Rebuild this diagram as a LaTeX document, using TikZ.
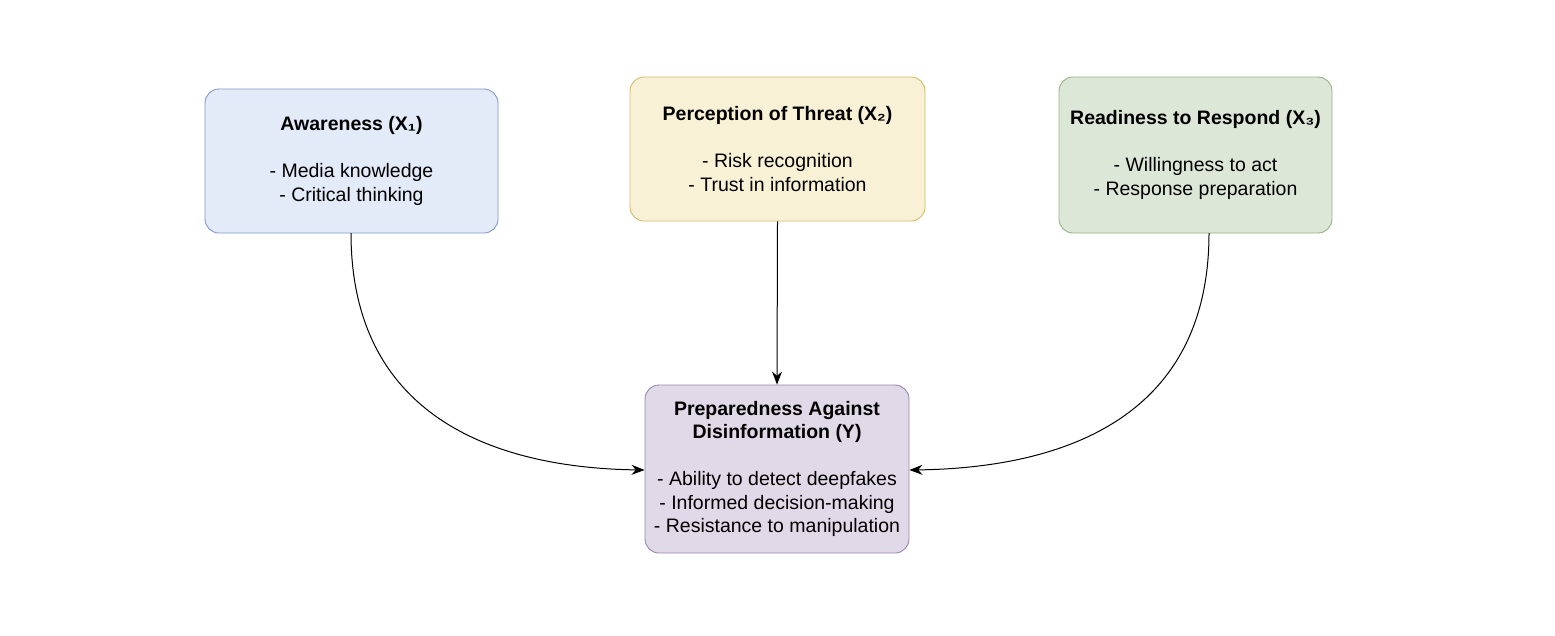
\documentclass[tikz,border=0pt]{standalone}
\usepackage{fontspec}
\setmainfont{Liberation Sans}
\usetikzlibrary{arrows.meta}
\definecolor{bf}{HTML}{E3EAF8}\definecolor{bd}{HTML}{8299C4}
\definecolor{yf}{HTML}{F8F1D5}\definecolor{yd}{HTML}{D2BA6A}
\definecolor{gf}{HTML}{DDE7D8}\definecolor{gd}{HTML}{94B283}
\definecolor{pf}{HTML}{E0D9E7}\definecolor{pd}{HTML}{9A84B0}
\begin{document}
\begin{tikzpicture}[x=1pt,y=-1pt,
  box/.style={draw,rounded corners=14pt,line width=0.9pt,align=center,inner sep=0pt,font=\fontsize{19.5}{23.5}\selectfont},
  arr/.style={-{Stealth[length=13pt,width=10pt]},line width=1pt}]
\useasboundingbox (0,0) rectangle (1555,635);
\node[box,fill=bf,draw=bd,minimum width=293pt,minimum height=144pt] (a) at (351.5,161)
 {\textbf{Awareness (X₁)}\\[23.5pt]- Media knowledge\\- Critical thinking};
\node[box,fill=yf,draw=yd,minimum width=295pt,minimum height=144pt] (p) at (777.5,149)
 {\textbf{Perception of Threat (X₂)}\\[23.5pt]- Risk recognition\\- Trust in information};
\node[box,fill=gf,draw=gd,minimum width=273pt,minimum height=156pt] (r) at (1195.5,155)
 {\textbf{Readiness to Respond (X₃)}\\[23.5pt]- Willingness to act\\- Response preparation};
\node[box,fill=pf,draw=pd,minimum width=264pt,minimum height=168pt] (y) at (777,469)
 {\textbf{Preparedness Against}\\\textbf{Disinformation (Y)}\\[23.5pt]- Ability to detect deepfakes\\- Informed decision-making\\- Resistance to manipulation};
\coordinate (as) at (351,233);
\coordinate (rs) at (1209,233);
\coordinate (ye) at ([yshift=-1pt]y.west);
\coordinate (ye2) at ([yshift=-1pt]y.east);
\draw[arr] (as) .. controls (351,420) and (500,468) .. (ye);
\draw[arr] (p.south) -- (y.north);
\draw[arr] (rs) .. controls (1209,420) and (1060,468) .. (ye2);
\end{tikzpicture}
\end{document}
